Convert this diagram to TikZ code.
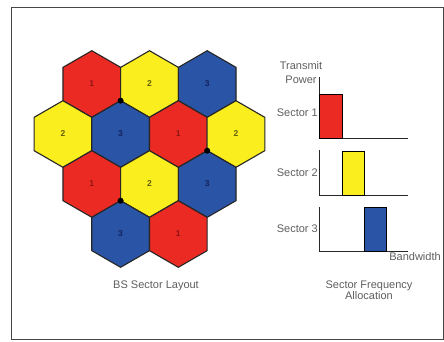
\documentclass[tikz,border=0pt]{standalone}
\usepackage{fontspec}
\setmainfont{Liberation Sans}
\definecolor{hred}{RGB}{236,42,36}
\definecolor{hyel}{RGB}{250,238,30}
\definecolor{hblu}{RGB}{42,84,165}
\definecolor{nred}{RGB}{140,20,20}
\definecolor{nyel}{RGB}{100,95,10}
\definecolor{nblu}{RGB}{20,35,95}
\definecolor{txt}{RGB}{95,95,95}
\definecolor{frm}{RGB}{70,70,70}
\tikzset{
  hexnum/.style={font=\fontsize{8.5}{8.5}\selectfont\bfseries},
  lbl/.style={font=\fontsize{11}{11}\selectfont, text=txt, inner sep=0pt},
  axis/.style={draw=black!85, line width=1pt},
  bar/.style={draw=black, line width=0.9pt},
  bsdot/.style={circle, fill=black, inner sep=0pt, minimum size=6pt}
}
\begin{document}
\begin{tikzpicture}[x=1pt,y=-1pt]
\useasboundingbox (0,0) rectangle (444,341);
\fill[white] (0,0) rectangle (444,341);
\draw[frm, line width=1pt] (11,7) rectangle (443,339);
\def\R{33.3}
% hexagons: x, y, fill colour, number colour, number
\foreach \cx/\cy/\fc/\nc/\n [count=\i] in {
  91.8/84/hred/nred/1, 149.5/84/hyel/nyel/2, 207.2/84/hblu/nblu/3,
  62.9/134/hyel/nyel/2, 120.6/134/hblu/nblu/3, 178.3/134/hred/nred/1, 236/134/hyel/nyel/2,
  91.8/184/hred/nred/1, 149.5/184/hyel/nyel/2, 207.2/184/hblu/nblu/3,
  120.6/234/hblu/nblu/3, 178.3/234/hred/nred/1}{
  \filldraw[fill=\fc, draw=black!85, line width=1.1pt, line join=round]
    ([shift={(\cx,\cy)}]90:\R) -- ([shift={(\cx,\cy)}]150:\R) -- ([shift={(\cx,\cy)}]210:\R)
    -- ([shift={(\cx,\cy)}]270:\R) -- ([shift={(\cx,\cy)}]330:\R) -- ([shift={(\cx,\cy)}]30:\R) -- cycle;
  \node[hexnum, text=\nc] (h\i) at (\cx,\cy) {\n};
}
\node[bsdot] (bs1) at (120.6,100.7) {};
\node[bsdot] (bs2) at (207.2,150.7) {};
\node[bsdot] (bs3) at (120.6,200.7) {};
\node[lbl] (layout) at (156,286) {BS Sector Layout};
% frequency allocation
\draw[axis] (319.3,77) -- (319.3,138) -- (408,138);
\filldraw[bar, fill=hred] (319.3,94) rectangle (342,138);
\draw[axis] (319.3,150) -- (319.3,195) -- (408,195);
\filldraw[bar, fill=hyel] (342,151) rectangle (364,195);
\draw[axis] (319.3,207) -- (319.3,251) -- (408,251);
\filldraw[bar, fill=hblu] (364,207) rectangle (386,251);
\node[lbl, align=center, font=\fontsize{11}{14}\selectfont] (tp) at (301,73) {Transmit\\Power};
\node[lbl, anchor=east] (s1) at (318,113) {Sector 1};
\node[lbl, anchor=east] (s2) at (318,173) {Sector 2};
\node[lbl, anchor=east] (s3) at (318,229) {Sector 3};
\node[lbl] (bw) at (415,257) {Bandwidth};
\node[lbl, align=center] (alloc) at (369,290.5) {Sector Frequency\\Allocation};
\end{tikzpicture}
\end{document}
